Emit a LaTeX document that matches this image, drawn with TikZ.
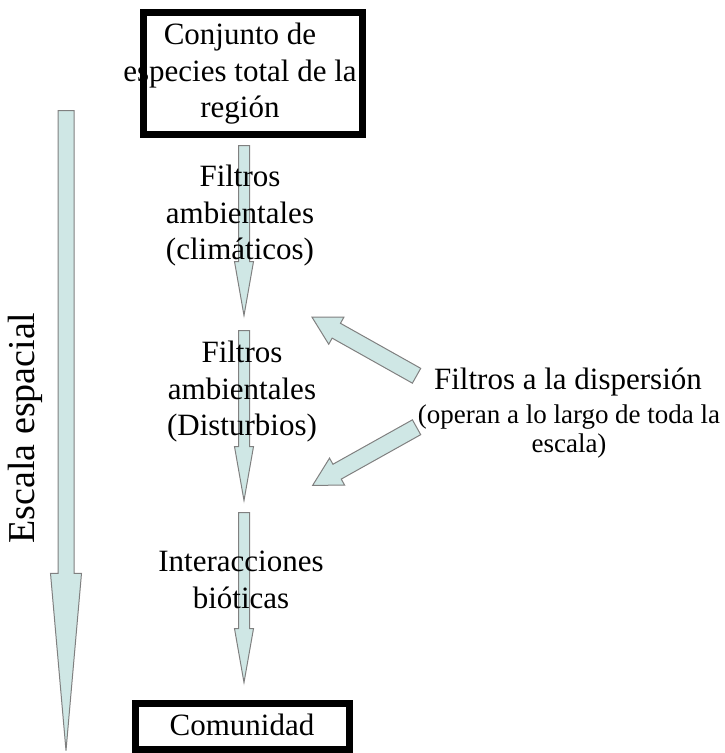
\documentclass[tikz,border=0pt]{standalone}
\usepackage{fontspec}
\setmainfont{Liberation Serif}
\usetikzlibrary{shapes.arrows}
\definecolor{flecha}{RGB}{207,231,229}
\definecolor{borde}{RGB}{128,128,128}

\begin{document}
\begin{tikzpicture}[x=1pt,y=-1pt]

      \useasboundingbox (0,0) rectangle (725,753);

      \begin{scope}[every node/.style={single arrow,draw=borde,fill=flecha,line width=1pt,inner sep=0pt,anchor=tail}]
        \node[rotate=-90,inner ysep=7.5pt,single arrow head extend=7.5pt,single arrow tip angle=10,minimum height=640pt] (escala) at (66,110) {};
        \node[rotate=-90,inner ysep=5pt,single arrow head extend=4pt,single arrow tip angle=20,minimum height=170pt] (f1) at (244,145) {};
        \node[rotate=-90,inner ysep=5pt,single arrow head extend=4pt,single arrow tip angle=20,minimum height=170pt] (f2) at (244,330) {};
        \node[rotate=-90,inner ysep=5pt,single arrow head extend=4pt,single arrow tip angle=20,minimum height=170pt] (f3) at (244,512) {};
        \node[rotate=150.7,inner ysep=8pt,single arrow head extend=7pt,single arrow tip angle=58,minimum height=120pt] (d1) at (417,376) {};
        \node[rotate=209.2,inner ysep=8pt,single arrow head extend=7pt,single arrow tip angle=58,minimum height=119pt] (d2) at (417,427) {};
      \end{scope}

      \begin{scope}[every node/.style={draw,line width=7pt,inner sep=0pt}]
        \node[minimum width=219pt,minimum height=122pt] (caja1) at (252.5,73) {};
        \node[minimum width=214pt,minimum height=46pt] (caja2) at (242.5,726.5) {};
      \end{scope}

      \begin{scope}[every node/.style={align=center,inner sep=0pt,font=\fontsize{31}{36.5}\selectfont}]
        \node (region) at (240,74) {Conjunto de\\especies total de la\\región};
        \node (clima) at (240,216) {Filtros\\ambientales\\(climáticos)};
        \node (dist) at (242,392) {Filtros\\ambientales\\(Disturbios)};
        \node (bio) at (241,580) {Interacciones\\bióticas};
        \node[anchor=base] (com) at (242,735) {Comunidad};
        \node[rotate=90,font=\fontsize{38}{40}\selectfont] (esc) at (25,428) {Escala espacial};
        \node[anchor=base] (disp) at (568,389) {Filtros a la dispersión};
        \node[anchor=base,font=\fontsize{27}{29}\selectfont] (oper) at (569,452) {(operan a lo largo de toda la\\escala)};
      \end{scope}

    \end{tikzpicture}
\end{document}
